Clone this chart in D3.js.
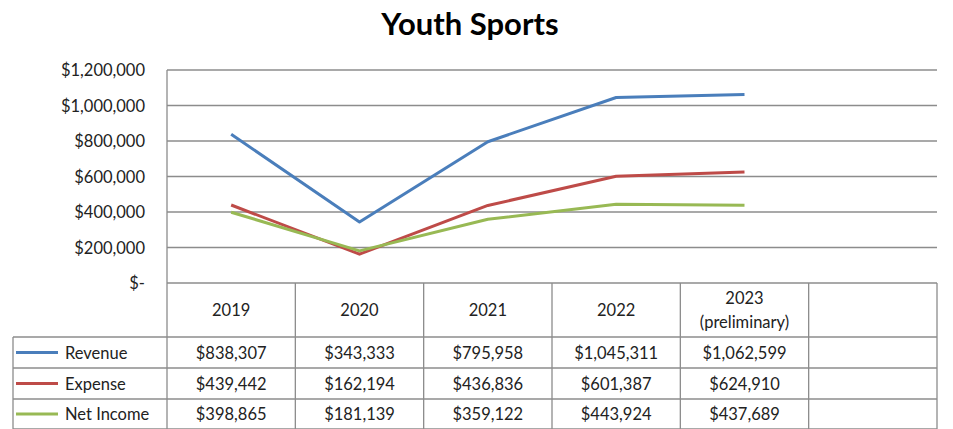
<!DOCTYPE html>
<html>
<head>
<meta charset="utf-8">
<script src="https://cdn.jsdelivr.net/npm/d3@7"></script>
<style>
  body { margin: 0; background: #fff; }
  svg text { font-family: Lato, "Open Sans", sans-serif; fill: #222; }
</style>
</head>
<body>
<svg id="chart" width="953" height="429"></svg>
<script>
/*
** Data
*/
var years = ["2019", "2020", "2021", "2022", "2023", ""];
var yearLabels = [["2019"], ["2020"], ["2021"], ["2022"], ["2023", "(preliminary)"], []];
var seriesNames = ["Revenue", "Expense", "Net Income"];
var revenue = [838307, 343333, 795958, 1045311, 1062599];
var expense = [439442, 162194, 436836, 601387, 624910];
var netIncome = [398865, 181139, 359122, 443924, 437689];
var yTicks = [0, 200000, 400000, 600000, 800000, 1000000, 1200000];
var colors = ["#4a7ebb", "#be4b48", "#98b954"];

(function() {
    var series = [revenue, expense, netIncome];

    var svg = d3.select("#chart");
    var plotLeft = 167, plotRight = 937, plotTop = 70, plotBottom = 283;
    var rowY = [283, 337, 368, 399, 429];
    var legendLeft = 13;
    var gridColor = "#8c8c8c";
    var fontSize = "16.5px";

    var x = d3.scaleBand().domain(years).range([plotLeft, plotRight]);
    var y = d3.scaleLinear().domain([0, 1200000]).range([plotBottom, plotTop]);
    var fmt = d3.format("$,.0f");

    // title
    svg.append("text")
        .attr("x", 470)
        .attr("y", 35)
        .attr("text-anchor", "middle")
        .style("font-size", "31px")
        .style("font-weight", "bold")
        .style("fill", "#000")
        .text("Youth Sports");

    // gridlines
    svg.append("g")
      .selectAll("line")
      .data(yTicks)
      .join("line")
        .attr("x1", plotLeft)
        .attr("x2", plotRight)
        .attr("y1", function(d) { return y(d); })
        .attr("y2", function(d) { return y(d); })
        .attr("stroke", gridColor)
        .attr("stroke-width", 1.3);

    // y axis labels
    svg.append("g")
      .selectAll("text")
      .data(yTicks)
      .join("text")
        .attr("x", 145)
        .attr("y", function(d) { return y(d) + 6; })
        .attr("text-anchor", "end")
        .style("font-size", fontSize)
        .text(function(d) { return d === 0 ? "$-" : fmt(d); });

    // left axis line
    svg.append("line")
        .attr("x1", plotLeft).attr("x2", plotLeft)
        .attr("y1", plotTop).attr("y2", rowY[4])
        .attr("stroke", gridColor)
        .attr("stroke-width", 1.3);

    // data table grid
    var table = svg.append("g");
    x.domain().forEach(function(d) {
        table.append("line")
            .attr("x1", x(d) + x.bandwidth()).attr("x2", x(d) + x.bandwidth())
            .attr("y1", rowY[0]).attr("y2", rowY[4])
            .attr("stroke", gridColor)
            .attr("stroke-width", 1.3);
    });
    rowY.slice(1).forEach(function(ry) {
        table.append("line")
            .attr("x1", legendLeft).attr("x2", plotRight)
            .attr("y1", ry).attr("y2", ry)
            .attr("stroke", gridColor)
            .attr("stroke-width", 1.3);
    });
    table.append("line")
        .attr("x1", legendLeft).attr("x2", legendLeft)
        .attr("y1", rowY[1]).attr("y2", rowY[4])
        .attr("stroke", gridColor)
        .attr("stroke-width", 1.3);

    // header labels
    years.forEach(function(d, i) {
        var lines = yearLabels[i];
        var cy = (rowY[0] + rowY[1]) / 2;
        lines.forEach(function(t, j) {
            table.append("text")
                .attr("x", x(d) + x.bandwidth() / 2)
                .attr("y", cy + 6 + (j - (lines.length - 1) / 2) * 24)
                .attr("text-anchor", "middle")
                .style("font-size", fontSize)
                .text(t);
        });
    });

    // rows: legend keys + values
    series.forEach(function(vals, s) {
        var cy = (rowY[s + 1] + rowY[s + 2]) / 2;
        table.append("line")
            .attr("x1", 16).attr("x2", 58)
            .attr("y1", cy).attr("y2", cy)
            .attr("stroke", colors[s])
            .attr("stroke-width", 3);
        table.append("text")
            .attr("x", 65)
            .attr("y", cy + 6)
            .style("font-size", fontSize)
            .text(seriesNames[s]);
        vals.forEach(function(v, i) {
            table.append("text")
                .attr("x", x(years[i]) + x.bandwidth() / 2)
                .attr("y", cy + 6)
                .attr("text-anchor", "middle")
                .style("font-size", fontSize)
                .text(fmt(v));
        });
    });

    // lines
    var line = d3.line()
        .x(function(d, i) { return x(years[i]) + x.bandwidth() / 2; })
        .y(function(d) { return y(d); });

    svg.append("g")
      .selectAll("path")
      .data(series)
      .join("path")
        .attr("d", line)
        .attr("fill", "none")
        .attr("stroke", function(d, i) { return colors[i]; })
        .attr("stroke-width", 3)
        .attr("stroke-linejoin", "round");
})();
</script>
</body>
</html>
